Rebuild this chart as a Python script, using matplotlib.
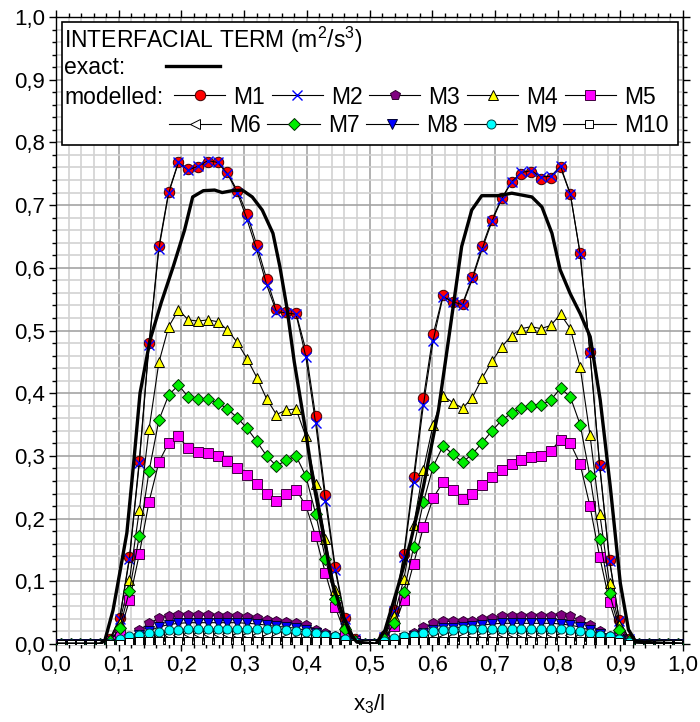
import matplotlib
matplotlib.use("Agg")
import matplotlib.pyplot as plt
from matplotlib.patches import Rectangle
from matplotlib.ticker import MultipleLocator, FixedLocator, FixedFormatter

plt.rcParams['font.family'] = ['Liberation Sans', 'DejaVu Sans']
plt.rcParams['mathtext.fontset'] = 'custom'
plt.rcParams['mathtext.rm'] = 'Liberation Sans'
plt.rcParams['mathtext.default'] = 'regular'

# ---------------- data ----------------
n_cells = 64
x_cells = [(i + 0.5) / n_cells for i in range(n_cells)]

exact_x = [0.0, 0.070, 0.078, 0.091, 0.102, 0.113, 0.124, 0.134, 0.150, 0.168, 0.187,
           0.205, 0.218, 0.235, 0.253, 0.265, 0.281, 0.297, 0.313, 0.329, 0.346,
           0.357, 0.368, 0.380, 0.397, 0.410, 0.426, 0.440, 0.458, 0.470, 0.480,
           0.510, 0.5247, 0.545, 0.565, 0.586, 0.610, 0.626, 0.647, 0.663, 0.679,
           0.705, 0.727, 0.759, 0.775, 0.791, 0.804, 0.820, 0.836, 0.852, 0.868,
           0.884, 0.900, 0.913, 0.925, 1.0]
exact_y = [0.0, 0.0, 0.006, 0.054, 0.115, 0.177, 0.29, 0.40, 0.485, 0.545, 0.602,
           0.66, 0.713, 0.723, 0.724, 0.720, 0.723, 0.724, 0.713, 0.692, 0.655,
           0.602, 0.538, 0.45, 0.347, 0.26, 0.177, 0.10, 0.044, 0.015, 0.003,
           0.0, 0.022, 0.09, 0.161, 0.251, 0.373, 0.485, 0.634, 0.692, 0.715,
           0.715, 0.719, 0.713, 0.697, 0.655, 0.597, 0.559, 0.527, 0.490, 0.389,
           0.251, 0.097, 0.023, 0.003, 0.0]

m1 = [0, 0, 0, 0, 0, 0.008, 0.041, 0.139, 0.292, 0.480, 0.634, 0.721, 0.769, 0.757, 0.760, 0.769,
      0.768, 0.752, 0.723, 0.686, 0.636, 0.582, 0.534, 0.529, 0.528, 0.469, 0.363, 0.238, 0.123, 0.042, 0.008, 0,
      0, 0.012, 0.054, 0.144, 0.267, 0.392, 0.494, 0.556, 0.545, 0.543, 0.585, 0.634, 0.677, 0.711, 0.737, 0.750,
      0.752, 0.742, 0.744, 0.760, 0.717, 0.623, 0.466, 0.285, 0.134, 0.038, 0.008, 0, 0, 0, 0, 0]
m2 = [0, 0, 0, 0, 0, 0.008, 0.040, 0.136, 0.288, 0.477, 0.630, 0.719, 0.768, 0.756, 0.762, 0.771,
      0.768, 0.750, 0.720, 0.677, 0.628, 0.573, 0.530, 0.528, 0.526, 0.458, 0.352, 0.228, 0.118, 0.040, 0.008, 0,
      0, 0.011, 0.052, 0.138, 0.258, 0.381, 0.484, 0.554, 0.546, 0.541, 0.582, 0.630, 0.674, 0.710, 0.737, 0.752,
      0.755, 0.745, 0.746, 0.762, 0.718, 0.622, 0.464, 0.283, 0.132, 0.037, 0.008, 0, 0, 0, 0, 0]
m3 = [0, 0, 0, 0, 0, 0.001, 0.004, 0.010, 0.022, 0.033, 0.041, 0.045, 0.047, 0.046, 0.046, 0.046,
      0.045, 0.045, 0.044, 0.043, 0.041, 0.038, 0.036, 0.035, 0.033, 0.030, 0.023, 0.017, 0.012, 0.007, 0.003, 0,
      0, 0.002, 0.006, 0.011, 0.018, 0.027, 0.033, 0.036, 0.036, 0.036, 0.037, 0.040, 0.042, 0.044, 0.045, 0.045,
      0.045, 0.045, 0.045, 0.046, 0.044, 0.038, 0.031, 0.021, 0.013, 0.009, 0.003, 0, 0, 0, 0, 0]
m4 = [0, 0, 0, 0, 0, 0.006, 0.034, 0.102, 0.213, 0.343, 0.449, 0.506, 0.533, 0.517, 0.515, 0.517,
      0.514, 0.501, 0.481, 0.455, 0.425, 0.391, 0.366, 0.373, 0.375, 0.331, 0.255, 0.168, 0.086, 0.033, 0.006, 0,
      0, 0.010, 0.044, 0.103, 0.189, 0.278, 0.350, 0.396, 0.385, 0.376, 0.393, 0.424, 0.451, 0.474, 0.492, 0.503,
      0.506, 0.503, 0.508, 0.526, 0.503, 0.442, 0.334, 0.208, 0.097, 0.030, 0.006, 0, 0, 0, 0, 0]
m5 = [0, 0, 0, 0, 0, 0.004, 0.017, 0.070, 0.143, 0.227, 0.290, 0.321, 0.331, 0.312, 0.306, 0.304,
      0.300, 0.292, 0.281, 0.270, 0.255, 0.239, 0.228, 0.239, 0.246, 0.221, 0.172, 0.113, 0.059, 0.017, 0.004, 0,
      0, 0.006, 0.028, 0.070, 0.128, 0.186, 0.233, 0.258, 0.246, 0.232, 0.240, 0.253, 0.266, 0.278, 0.287, 0.293,
      0.298, 0.300, 0.308, 0.326, 0.320, 0.287, 0.220, 0.139, 0.067, 0.016, 0.004, 0, 0, 0, 0, 0]
m6 = [0, 0, 0, 0, 0, 0, 0.002, 0.004, 0.007, 0.010, 0.012, 0.014, 0.015, 0.016, 0.016, 0.016,
      0.016, 0.016, 0.015, 0.015, 0.014, 0.013, 0.012, 0.011, 0.010, 0.009, 0.008, 0.006, 0.004, 0.002, 0.001, 0,
      0, 0.001, 0.002, 0.004, 0.006, 0.008, 0.010, 0.011, 0.012, 0.013, 0.014, 0.015, 0.015, 0.016, 0.016, 0.016,
      0.016, 0.016, 0.016, 0.015, 0.014, 0.012, 0.010, 0.007, 0.005, 0.003, 0.001, 0, 0, 0, 0, 0]
m7 = [0, 0, 0, 0, 0, 0.004, 0.025, 0.085, 0.172, 0.276, 0.357, 0.397, 0.413, 0.394, 0.390, 0.390,
      0.385, 0.375, 0.361, 0.344, 0.323, 0.300, 0.284, 0.293, 0.300, 0.268, 0.208, 0.136, 0.072, 0.024, 0.004, 0,
      0, 0.008, 0.033, 0.083, 0.154, 0.226, 0.283, 0.316, 0.303, 0.290, 0.303, 0.321, 0.340, 0.357, 0.368, 0.376,
      0.380, 0.381, 0.389, 0.408, 0.394, 0.350, 0.268, 0.168, 0.081, 0.023, 0.004, 0, 0, 0, 0, 0]
m8 = [0, 0, 0, 0, 0, 0, 0.003, 0.008, 0.014, 0.021, 0.027, 0.031, 0.033, 0.034, 0.034, 0.034,
      0.034, 0.034, 0.034, 0.033, 0.032, 0.030, 0.028, 0.027, 0.025, 0.022, 0.018, 0.013, 0.009, 0.005, 0.002, 0,
      0, 0.002, 0.005, 0.009, 0.013, 0.018, 0.022, 0.025, 0.026, 0.027, 0.028, 0.030, 0.032, 0.033, 0.033, 0.033,
      0.033, 0.033, 0.033, 0.032, 0.030, 0.027, 0.022, 0.016, 0.010, 0.006, 0.002, 0, 0, 0, 0, 0]
m9 = [0, 0, 0, 0, 0, 0.002, 0.008, 0.012, 0.015, 0.018, 0.019, 0.022, 0.023, 0.024, 0.024, 0.024,
      0.024, 0.024, 0.024, 0.024, 0.024, 0.024, 0.024, 0.023, 0.021, 0.019, 0.017, 0.015, 0.012, 0.008, 0.003, 0,
      0, 0.004, 0.009, 0.012, 0.014, 0.018, 0.020, 0.022, 0.023, 0.024, 0.024, 0.024, 0.024, 0.024, 0.024, 0.024,
      0.024, 0.024, 0.024, 0.024, 0.022, 0.020, 0.017, 0.014, 0.012, 0.008, 0.003, 0, 0, 0, 0, 0]
m10 = [0, 0, 0, 0, 0, 0, 0, 0.003, 0.005, 0.005, 0.005, 0.005, 0.005, 0.005, 0.005, 0.005,
       0.005, 0.005, 0.005, 0.005, 0.005, 0.005, 0.005, 0.005, 0.005, 0.005, 0.005, 0.005, 0.003, 0, 0, 0,
       0, 0, 0, 0.003, 0.005, 0.005, 0.005, 0.005, 0.005, 0.005, 0.005, 0.005, 0.005, 0.005, 0.005, 0.005,
       0.005, 0.005, 0.005, 0.005, 0.005, 0.005, 0.005, 0.005, 0.005, 0.003, 0, 0, 0, 0, 0, 0]

series_names = ['M1', 'M2', 'M3', 'M4', 'M5', 'M6', 'M7', 'M8', 'M9', 'M10']
series_values = [m1, m2, m3, m4, m5, m6, m7, m8, m9, m10]

x_ticks = [0.0, 0.1, 0.2, 0.3, 0.4, 0.5, 0.6, 0.7, 0.8, 0.9, 1.0]
x_tick_labels = ['0,0', '0,1', '0,2', '0,3', '0,4', '0,5', '0,6', '0,7', '0,8', '0,9', '1,0']
y_ticks = [0.0, 0.1, 0.2, 0.3, 0.4, 0.5, 0.6, 0.7, 0.8, 0.9, 1.0]
y_tick_labels = ['0,0', '0,1', '0,2', '0,3', '0,4', '0,5', '0,6', '0,7', '0,8', '0,9', '1,0']

# ---------------- styles ----------------
styles = {
    'M1': dict(marker='o', mfc='#ff0000', mec='#400000', ms=7.5),
    'M2': dict(marker='x', mfc='#0000ff', mec='#0000ff', ms=7.5, mew=1.0),
    'M3': dict(marker='p', mfc='#800080', mec='#300030', ms=7.5),
    'M4': dict(marker='^', mfc='#ffff00', mec='#000000', ms=7.5),
    'M5': dict(marker='s', mfc='#ff00ff', mec='#400040', ms=6.5),
    'M6': dict(marker='<', mfc='#ffffff', mec='#000000', ms=7.0),
    'M7': dict(marker='D', mfc='#00ee00', mec='#003000', ms=6.0),
    'M8': dict(marker='v', mfc='#0000ff', mec='#000030', ms=7.0),
    'M9': dict(marker='o', mfc='#00ffff', mec='#004040', ms=6.5),
    'M10': dict(marker='s', mfc='#ffffff', mec='#000000', ms=5.5),
}

FS = 16
FSL = 16.5
fig = plt.figure(figsize=(7.0, 7.22), dpi=100)
ax = fig.add_axes([56 / 700, 1 - 644 / 722, 627 / 700, 627 / 722])

ax.set_xlim(0, 1)
ax.set_ylim(0, 1)

ax.xaxis.set_major_locator(FixedLocator(x_ticks))
ax.xaxis.set_major_formatter(FixedFormatter(x_tick_labels))
ax.yaxis.set_major_locator(FixedLocator(y_ticks))
ax.yaxis.set_major_formatter(FixedFormatter(y_tick_labels))
ax.xaxis.set_minor_locator(MultipleLocator(0.02))
ax.yaxis.set_minor_locator(MultipleLocator(0.02))
ax.grid(which='minor', color='#d2d2d2', lw=1.2, zorder=0)
ax.grid(which='major', color='#a4a4a4', lw=1.2, zorder=0)
ax.set_axisbelow(True)
ax.tick_params(which='both', direction='out', top=True, right=True,
               labelsize=FS, width=1.0, color='black')
ax.tick_params(which='major', length=5, pad=3)
ax.tick_params(which='minor', length=3)
for sp in ax.spines.values():
    sp.set_linewidth(1.0)
    sp.set_color('black')

handles = {}
for k, (name, vals) in enumerate(zip(series_names, series_values)):
    st = styles[name]
    ln, = ax.plot(x_cells, vals, color='black', lw=0.8, marker=st['marker'],
                  markerfacecolor=st['mfc'], markeredgecolor=st['mec'],
                  markersize=st['ms'], markeredgewidth=st.get('mew', 0.7),
                  zorder=3 + k * 0.1)
    handles[name] = ln

ex, = ax.plot(exact_x, exact_y, color='black', lw=2.4, zorder=5, solid_joinstyle='round')

ax.set_xlabel('x$_3$/l', fontsize=FS, labelpad=12)

# ---------------- legend box ----------------
def fx(px):
    return (px - 56) / 627.0

def fy(py):
    return (644 - py) / 627.0

box = Rectangle((fx(62), fy(145)), fx(678) - fx(62), fy(22) - fy(145),
                transform=ax.transAxes, facecolor='white', edgecolor='black',
                lw=1.2, zorder=10)
ax.add_patch(box)

ax.text(fx(64), fy(40), 'INTERFACIAL TERM (m$^2$/s$^3$)', transform=ax.transAxes,
        fontsize=FSL, va='center', ha='left', zorder=11)
ax.text(fx(64), fy(68), 'exact:', transform=ax.transAxes,
        fontsize=FSL, va='center', ha='left', zorder=11)
ax.text(fx(64), fy(97), 'modelled:', transform=ax.transAxes,
        fontsize=FSL, va='center', ha='left', zorder=11)

common = dict(frameon=False, fontsize=FSL, handletextpad=0.35,
              borderpad=0, borderaxespad=0, numpoints=1, loc='center left')

leg_ex = ax.legend([ex], [''], bbox_to_anchor=(fx(166), fy(68)),
                   handlelength=2.36, columnspacing=0.3, **common)
leg_ex.set_zorder(12)
ax.add_artist(leg_ex)

row1 = ['M1', 'M2', 'M3', 'M4', 'M5']
row2 = ['M6', 'M7', 'M8', 'M9', 'M10']
leg1 = ax.legend([handles[n] for n in row1], row1, ncol=5, handlelength=2.23,
                 columnspacing=0.3, bbox_to_anchor=(fx(174), fy(97)), **common)
leg1.set_zorder(12)
ax.add_artist(leg1)
leg2 = ax.legend([handles[n] for n in row2], row2, ncol=5, handlelength=2.3,
                 columnspacing=0.27, bbox_to_anchor=(fx(168.5), fy(126)), **common)
leg2.set_zorder(12)

fig.savefig('out.png', dpi=100)
